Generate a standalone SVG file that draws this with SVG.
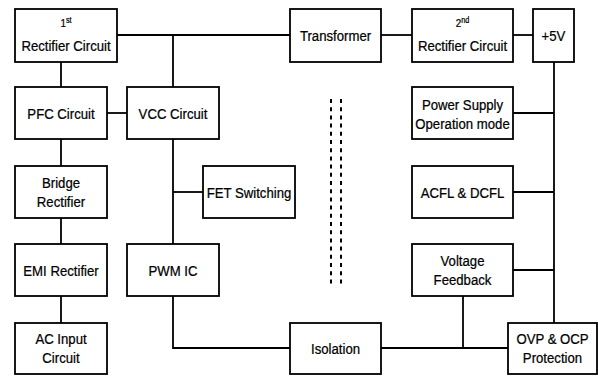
<svg xmlns="http://www.w3.org/2000/svg" width="598" height="376" viewBox="0 0 598 376">
<style>
rect.b{fill:#fff;stroke:#000;stroke-width:1.8}
text{font-family:"Liberation Sans",Arial,sans-serif;font-size:15.5px;text-anchor:middle;fill:#000;stroke:#000;stroke-width:0.25}
.c line,.c polyline{stroke:#000;stroke-width:1.8;fill:none}
.d{stroke:#000;stroke-width:2;stroke-dasharray:4 4.2}
.sm{font-size:11.5px}
.sup{font-size:8.5px}
</style>
<rect width="598" height="376" fill="#fff"/>
<g class="c" id="connectors">
<line x1="117" y1="35" x2="290" y2="35"/>
<line x1="173" y1="35" x2="173" y2="87"/>
<line x1="61" y1="62" x2="61" y2="87"/>
<line x1="107" y1="113" x2="127" y2="113"/>
<line x1="61" y1="139" x2="61" y2="166"/>
<line x1="61" y1="218" x2="61" y2="244"/>
<line x1="61" y1="296" x2="61" y2="323"/>
<line x1="173" y1="139" x2="173" y2="244"/>
<line x1="173" y1="192" x2="203" y2="192"/>
<polyline points="173,296 173,348 290,348"/>
<line x1="381" y1="35" x2="412" y2="35"/>
<line x1="513" y1="35" x2="533" y2="35"/>
<line x1="554" y1="62" x2="554" y2="323"/>
<line x1="513" y1="113" x2="554" y2="113"/>
<line x1="513" y1="192" x2="554" y2="192"/>
<line x1="513" y1="270" x2="554" y2="270"/>
<line x1="463" y1="296" x2="463" y2="348"/>
<line x1="381" y1="348" x2="508" y2="348"/>
</g>
<g id="barrier">
<line class="d" x1="331" y1="99" x2="331" y2="286"/>
<line class="d" x1="341" y1="99" x2="341" y2="286"/>
</g>
<g id="rect1"><rect class="b" x="15" y="9" width="102" height="53"/><text transform="matrix(0.85 0 0 1 66 27)"><tspan class="sm">1</tspan><tspan class="sup" dy="-4">st</tspan></text><text transform="matrix(0.85 0 0 1 66 50.5)">Rectifier Circuit</text></g>
<g id="pfc"><rect class="b" x="15" y="87" width="92" height="52"/><text transform="matrix(0.85 0 0 1 61 119)">PFC Circuit</text></g>
<g id="vcc"><rect class="b" x="127" y="87" width="92" height="52"/><text transform="matrix(0.85 0 0 1 173 119)">VCC Circuit</text></g>
<g id="bridge"><rect class="b" x="15" y="166" width="92" height="52"/><text transform="matrix(0.85 0 0 1 61 187.5)">Bridge</text><text transform="matrix(0.85 0 0 1 61 206.5)">Rectifier</text></g>
<g id="fet"><rect class="b" x="203" y="166" width="92" height="52"/><text transform="matrix(0.85 0 0 1 249 197.5)">FET Switching</text></g>
<g id="emi"><rect class="b" x="15" y="244" width="92" height="52"/><text transform="matrix(0.85 0 0 1 61 275.5)">EMI Rectifier</text></g>
<g id="pwm"><rect class="b" x="127" y="244" width="92" height="52"/><text transform="matrix(0.85 0 0 1 173 275.5)">PWM IC</text></g>
<g id="acin"><rect class="b" x="15" y="323" width="92" height="51"/><text transform="matrix(0.85 0 0 1 61 343.5)">AC Input</text><text transform="matrix(0.85 0 0 1 61 363)">Circuit</text></g>
<g id="transformer"><rect class="b" x="290" y="9" width="91" height="53"/><text transform="matrix(0.85 0 0 1 335.5 41)">Transformer</text></g>
<g id="rect2"><rect class="b" x="412" y="9" width="101" height="53"/><text transform="matrix(0.85 0 0 1 462.5 27)"><tspan class="sm">2</tspan><tspan class="sup" dy="-4">nd</tspan></text><text transform="matrix(0.85 0 0 1 462.5 50.5)">Rectifier Circuit</text></g>
<g id="v5"><rect class="b" x="533" y="9" width="41" height="53"/><text transform="matrix(0.85 0 0 1 553.5 41)">+5V</text></g>
<g id="psom"><rect class="b" x="412" y="87" width="101" height="52"/><text transform="matrix(0.85 0 0 1 462.5 109.5)">Power Supply</text><text transform="matrix(0.85 0 0 1 462.5 128.5)">Operation mode</text></g>
<g id="acfl"><rect class="b" x="412" y="166" width="101" height="52"/><text transform="matrix(0.85 0 0 1 462.5 197.5)">ACFL &amp; DCFL</text></g>
<g id="vfb"><rect class="b" x="412" y="244" width="101" height="52"/><text transform="matrix(0.85 0 0 1 462.5 265.5)">Voltage</text><text transform="matrix(0.85 0 0 1 462.5 285)">Feedback</text></g>
<g id="isolation"><rect class="b" x="290" y="323" width="91" height="51"/><text transform="matrix(0.85 0 0 1 335.5 354)">Isolation</text></g>
<g id="ovp"><rect class="b" x="508" y="323" width="89" height="51"/><text transform="matrix(0.85 0 0 1 552.5 344)">OVP &amp; OCP</text><text transform="matrix(0.85 0 0 1 552.5 363)">Protection</text></g>
</svg>
